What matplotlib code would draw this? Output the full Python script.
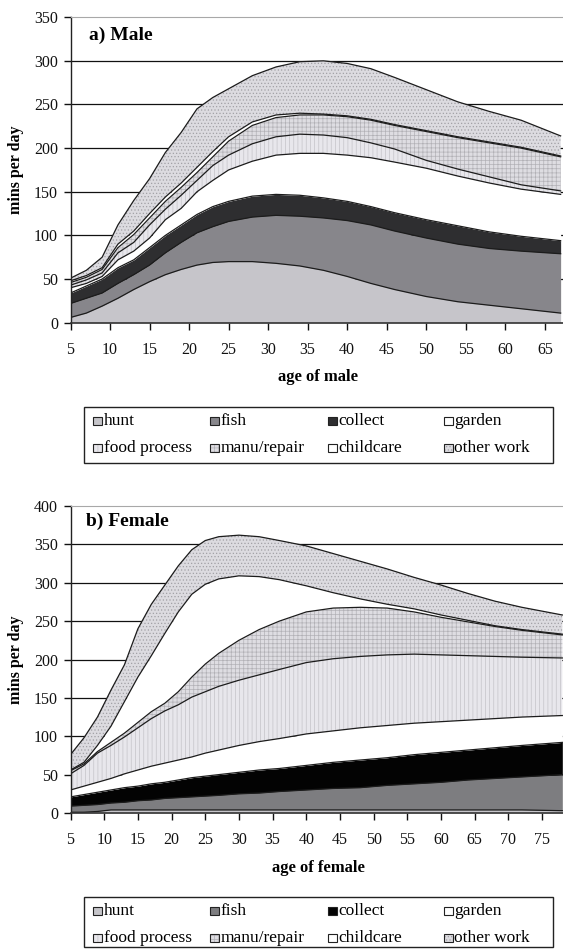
import matplotlib
matplotlib.use('Agg')
import matplotlib.pyplot as plt
from matplotlib.patches import Rectangle
import numpy as np

plt.rcParams['font.family'] = ['Liberation Serif', 'DejaVu Serif']
plt.rcParams['hatch.linewidth'] = 0.5

categories = ['hunt', 'fish', 'collect', 'garden',
              'food process', 'manu/repair', 'childcare', 'other work']

# ---------------- Male (minutes per day, by age) ----------------
male_age = [5, 7, 9, 11, 13, 15, 17, 19, 21, 23, 25, 28, 31, 34, 37, 40, 43, 46, 50, 54, 58, 62, 67]
male_hunt = [6, 11, 19, 28, 38, 47, 55, 61, 66, 69, 70, 70, 68, 65, 60, 53, 45, 38, 30, 24, 20, 16, 11]
male_fish = [16, 17, 15, 17, 17, 19, 25, 31, 37, 41, 46, 51, 55, 57, 60, 64, 67, 67, 67, 66, 65, 66, 68]
male_collect = [12, 14, 16, 18, 17, 20, 20, 20, 21, 23, 23, 24, 24, 24, 23, 22, 21, 21, 21, 21, 19, 17, 15]
male_garden = [6, 3, 3, 9, 10, 11, 18, 19, 26, 30, 36, 40, 45, 48, 51, 53, 56, 58, 59, 57, 56, 54, 53]
male_food = [3, 4, 4, 8, 10, 15, 12, 15, 13, 17, 17, 20, 21, 22, 21, 20, 17, 15, 9, 8, 7, 5, 4]
male_manu = [3, 3, 4, 6, 9, 8, 9, 9, 9, 10, 16, 21, 22, 22, 23, 24, 26, 27, 33, 36, 39, 42, 39]
male_child = [2, 2, 2, 4, 4, 5, 5, 5, 6, 6, 5, 4, 3, 2, 1, 1, 1, 1, 1, 1, 1, 1, 1]
male_other = [3, 6, 12, 22, 35, 40, 51, 58, 67, 62, 55, 53, 55, 59, 61, 60, 58, 54, 47, 40, 35, 31, 23]

# ---------------- Female (minutes per day, by age) ----------------
female_age = [5, 7, 9, 11, 13, 15, 17, 19, 21, 23, 25, 27, 30, 33, 36, 40, 44, 48, 52, 56, 60, 64, 68, 72, 78]
female_hunt = [1, 1, 2, 4, 4, 4, 4, 4, 4, 4, 4, 4, 4, 4, 4, 4, 4, 4, 4, 4, 4, 4, 4, 4, 3]
female_fish = [8, 9, 9, 9, 10, 12, 13, 15, 16, 17, 18, 19, 21, 22, 24, 26, 28, 29, 32, 34, 36, 39, 41, 43, 47]
female_collect = [12, 14, 16, 17, 19, 19, 21, 21, 23, 25, 26, 27, 28, 30, 30, 32, 34, 36, 36, 38, 39, 39, 40, 41, 42]
female_garden = [9, 11, 13, 15, 18, 21, 23, 25, 26, 27, 30, 32, 35, 37, 39, 41, 41, 42, 42, 41, 40, 39, 38, 37, 35]
female_food = [21, 27, 38, 43, 48, 55, 62, 68, 72, 78, 80, 83, 85, 87, 90, 93, 94, 93, 92, 90, 87, 84, 81, 78, 75]
female_manu = [4, 2, 2, 4, 5, 7, 9, 10, 17, 26, 36, 43, 52, 59, 63, 66, 66, 64, 61, 55, 49, 44, 39, 35, 30]
female_child = [1, 2, 8, 21, 41, 59, 73, 91, 104, 108, 104, 97, 84, 69, 54, 34, 20, 11, 5, 4, 3, 2, 1, 1, 1]
female_other = [20, 32, 37, 47, 48, 63, 67, 63, 60, 58, 57, 55, 53, 52, 51, 52, 51, 49, 46, 41, 39, 35, 32, 29, 25]

male_series = [male_hunt, male_fish, male_collect, male_garden,
               male_food, male_manu, male_child, male_other]
female_series = [female_hunt, female_fish, female_collect, female_garden,
                 female_food, female_manu, female_child, female_other]

male_yticks = [0, 50, 100, 150, 200, 250, 300, 350]
female_yticks = [0, 50, 100, 150, 200, 250, 300, 350, 400]
male_xticks = list(range(5, 70, 5))
female_xticks = list(range(5, 80, 5))

# style: facecolor, hatch, hatch colour
def styles(fish_c, collect_c):
    return [
        ('#c6c5ca', None, '#c6c5ca'),
        (fish_c, None, fish_c),
        (collect_c, None, collect_c),
        ('#ffffff', None, '#ffffff'),
        ('#e8e7ec', '||||', '#c4c3c8'),
        ('#dedde2', '++++', '#b2b1b6'),
        ('#ffffff', None, '#ffffff'),
        ('#dcdbe0', '.....', '#a2a1a6'),
    ]

male_styles = styles('#87868b', '#2e2e30')
female_styles = styles('#7d7d80', '#030303')

W, H = 563, 949
fig = plt.figure(figsize=(W / 100, H / 100), dpi=100)


def rect(l, t, r, b):
    return [l / W, 1 - b / H, (r - l) / W, (b - t) / H]


def panel(ax_rect, ages, series, sty, yticks, xticks, xlim, title, title_xy,
          xlabel, xlabel_y, ylabel_y):
    ax = fig.add_axes(rect(*ax_rect))
    ax.set_xlim(*xlim)
    ax.set_ylim(yticks[0], yticks[-1])
    for v in yticks[1:-1]:
        ax.axhline(v, color='#111111', lw=0.9, zorder=1)
    ages = np.array(ages, dtype=float)
    cum = np.zeros(len(ages))
    tops = []
    for vals, (fc, hatch, hc) in zip(series, sty):
        top = cum + np.array(vals, dtype=float)
        ax.fill_between(ages, cum, top, facecolor=fc, edgecolor=hc,
                        hatch=hatch, linewidth=0, zorder=2)
        tops.append(top)
        cum = top
    for top in tops:
        ax.plot(ages, top, color='#1c1c1c', lw=0.9, zorder=3)
    ax.set_yticks(yticks)
    ax.set_xticks(xticks)
    ax.tick_params(axis='y', direction='out', length=5, width=1, pad=4,
                   labelsize=11.5, colors='#111111')
    ax.tick_params(axis='x', direction='out', length=5, width=1, pad=9,
                   labelsize=11.5, colors='#111111')
    ax.spines['right'].set_visible(False)
    ax.spines['top'].set_color('#a8a8a8')
    ax.spines['top'].set_linewidth(0.8)
    ax.spines['left'].set_linewidth(1.0)
    ax.spines['bottom'].set_linewidth(1.2)
    ax.spines['bottom'].set_color('#333333')
    ax.spines['left'].set_color('#222222')
    for sp in ax.spines.values():
        sp.set_zorder(4)
    fig.text(title_xy[0] / W, 1 - title_xy[1] / H, title, fontsize=14,
             fontweight='bold', ha='left', va='center')
    fig.text(318 / W, 1 - xlabel_y / H, xlabel, fontsize=12,
             fontweight='bold', ha='center', va='center')
    fig.text(16 / W, 1 - ylabel_y / H, 'mins per day', fontsize=11.5,
             fontweight='bold', ha='center', va='center', rotation=90)
    return ax


def legend(box, rows_y, cols_x, sty):
    l, t, r, b = box
    fig.add_artist(Rectangle((l / W, 1 - b / H), (r - l) / W, (b - t) / H,
                             transform=fig.transFigure, facecolor='white',
                             edgecolor='#222222', lw=1.0))
    order = [[0, 1, 2, 3], [4, 5, 6, 7]]
    ms = 8.5
    for ri, row in enumerate(order):
        for ci, idx in enumerate(row):
            x = cols_x[ci]
            y = rows_y[ri]
            fc, hatch, hc = sty[idx]
            fig.add_artist(Rectangle((x / W, 1 - (y + ms / 2) / H), ms / W, ms / H,
                                     transform=fig.transFigure, facecolor=fc,
                                     edgecolor=hc, hatch=hatch, lw=0))
            fig.add_artist(Rectangle((x / W, 1 - (y + ms / 2) / H), ms / W, ms / H,
                                     transform=fig.transFigure, facecolor='none',
                                     edgecolor='#222222', lw=0.8))
            fig.text((x + ms + 2) / W, 1 - y / H, categories[idx], fontsize=12.5,
                     ha='left', va='center')


panel((70.5, 17.2, 563, 322.7), male_age, male_series, male_styles,
      male_yticks, male_xticks, (5, 67.3), 'a) Male', (89, 35),
      'age of male', 377, 170)
legend((84, 407, 553, 463), (421, 448), (93, 210, 328, 444), male_styles)

panel((70.5, 506, 563, 813), female_age, female_series, female_styles,
      female_yticks, female_xticks, (5, 78.1), 'b) Female', (86, 521),
      'age of female', 868, 660)
legend((84, 897, 553, 947), (911, 938), (93, 210, 328, 444), female_styles)

fig.savefig('out.png', dpi=100)
